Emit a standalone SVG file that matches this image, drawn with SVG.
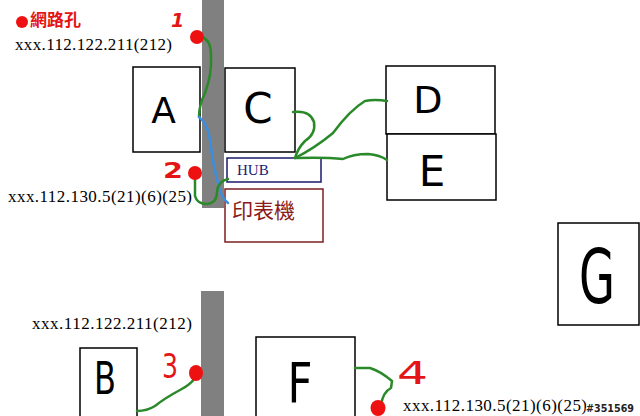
<svg xmlns="http://www.w3.org/2000/svg" width="640" height="416" viewBox="0 0 640 416">
<style>
.box{fill:#fff;stroke:#000;stroke-width:1.5}
.wall{fill:#808080}
.lt{font-family:"DejaVu Sans",sans-serif;fill:#000;text-anchor:middle}
.ip{font-family:"Liberation Serif",serif;font-size:17px;fill:#000}
.num{font-family:"DejaVu Sans",sans-serif;fill:#e31515}
.port{fill:#ee1111}
.g{fill:none;stroke:#2a8a2a;stroke-width:2.5;stroke-linecap:round;stroke-linejoin:round}
.b{fill:none;stroke:#3a8ee0;stroke-width:2.5;stroke-linecap:round}
</style>
<rect width="640" height="416" fill="#fff"/>
<g id="walls">
<rect class="wall" x="202" y="0" width="22" height="208"/>
<rect class="wall" x="201" y="291" width="23" height="125"/>
</g>
<g id="legend">
<circle class="port" cx="22" cy="22" r="6"/>
<text x="30" y="26" font-family="Noto Sans CJK TC,sans-serif" font-size="17" font-weight="bold" fill="#e31515">網路孔</text>
</g>
<g id="node-A"><rect class="box" x="133" y="67" width="67" height="85"/><text class="lt" x="163.5" y="123" font-size="36">A</text></g>
<g id="node-C"><rect class="box" x="225" y="68" width="70" height="84"/><text class="lt" x="258" y="123" font-size="42">C</text></g>
<g id="node-HUB"><rect x="227" y="158" width="94" height="24" fill="#fff" stroke="#1a1a6e" stroke-width="1.5"/><text x="237" y="175" font-family="Liberation Serif,serif" font-size="15" fill="#1a1a70">HUB</text></g>
<g id="node-printer"><rect x="225" y="189" width="98" height="53" fill="#fff" stroke="#7b2020" stroke-width="1.5"/><text x="232" y="218" font-family="Noto Sans CJK TC,sans-serif" font-size="21" fill="#8b1a1a">印表機</text></g>
<g id="node-D"><rect class="box" x="386" y="66" width="109" height="68"/><text class="lt" x="428" y="113" font-size="38">D</text></g>
<g id="node-E"><rect class="box" x="387" y="134" width="109" height="66"/><text class="lt" x="432" y="186" font-size="42">E</text></g>
<g id="node-G"><rect class="box" x="558" y="223" width="81" height="102"/><text class="lt" x="597" y="303" font-size="74" textLength="36" lengthAdjust="spacingAndGlyphs">G</text></g>
<g id="node-B"><rect class="box" x="80" y="348" width="57" height="70"/><text class="lt" x="105" y="394" font-size="44" textLength="22" lengthAdjust="spacingAndGlyphs">B</text></g>
<g id="node-F"><rect class="box" x="256" y="337" width="99" height="82"/><text class="lt" x="300" y="402" font-size="56" textLength="25" lengthAdjust="spacingAndGlyphs">F</text></g>
<g id="connectors">
<path class="g" d="M202,37 Q211,40 211,55 Q212,75 205,93 Q199,105 199,117"/>
<path class="b" d="M199,117 Q208,124 210,140 Q213,165 218,183 Q221,198 228,203"/>
<path class="g" d="M195,179 L195,196 Q197,204 207,204 Q217,203 217,192 Q218,181 228,179"/>
<path class="g" d="M293,112 Q310,110 314,122 Q316,134 305,141 Q298,148 295,158"/>
<path class="g" d="M295,158 Q315,148 333,133 Q350,110 365,101 Q375,99 387,101"/>
<path class="g" d="M295,158 Q325,157 343,159 Q353,154 368,154 Q380,155 387,160"/>
<path class="g" d="M195,378 Q190,385 180,390 Q165,398 155,406 Q147,411 137,411"/>
<path class="g" d="M355,368 L370,368 Q380,371 392,381 L391,388 Q383,392 381,405"/>
</g>
<g id="ports">
<circle class="port" cx="197" cy="37" r="7"/>
<circle class="port" cx="195" cy="173" r="7"/>
<ellipse class="port" cx="196" cy="373" rx="7" ry="8"/>
<ellipse class="port" cx="378" cy="408" rx="7.5" ry="8"/>
<text class="num" x="171" y="27" font-size="19" font-style="italic" font-weight="bold">1</text>
<text class="num" x="163" y="178" font-size="21" font-weight="bold" textLength="20" lengthAdjust="spacingAndGlyphs">2</text>
<text class="num" x="162" y="378" font-size="33" textLength="16" lengthAdjust="spacingAndGlyphs">3</text>
<text class="num" x="397" y="384" font-size="32" textLength="31" lengthAdjust="spacingAndGlyphs">4</text>
</g>
<g id="labels">
<text class="ip" x="15" y="50" textLength="157">xxx.112.122.211(212)</text>
<text class="ip" x="8" y="202" textLength="184">xxx.112.130.5(21)(6)(25)</text>
<text class="ip" x="32" y="329" textLength="160">xxx.112.122.211(212)</text>
<text class="ip" x="403" y="411" textLength="184">xxx.112.130.5(21)(6)(25)</text>
<text x="586" y="412" font-family="DejaVu Sans,sans-serif" font-size="11" font-weight="bold" fill="#222" stroke="#fff" stroke-width="2" paint-order="stroke" textLength="48" lengthAdjust="spacingAndGlyphs">#351569</text>
</g>
</svg>
